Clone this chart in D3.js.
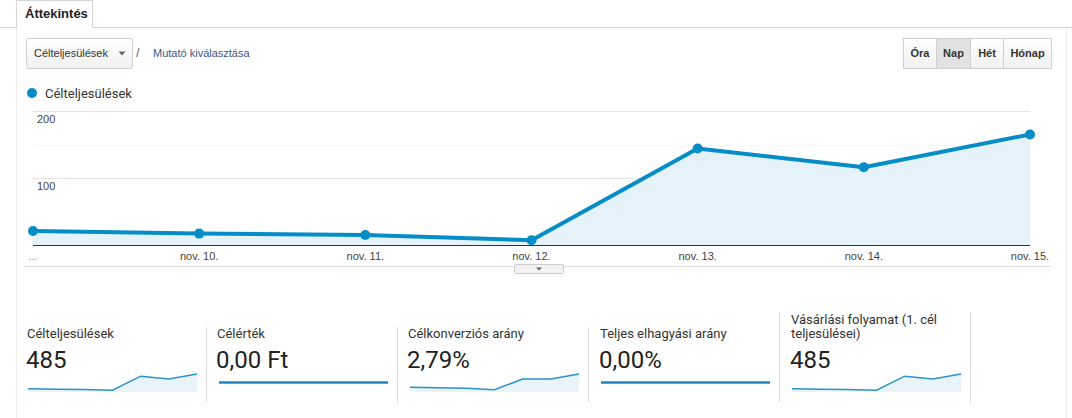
<!DOCTYPE html>
<html>
<head>
<meta charset="utf-8">
<script src="https://cdn.jsdelivr.net/npm/d3@7"></script>
<style>
  html, body { margin: 0; padding: 0; background: #fff; }
  svg { display: block; }
  .ui { font-family: Arial, "Liberation Sans", sans-serif; }
  .rb { font-family: Roboto, "Noto Sans", sans-serif; }
</style>
</head>
<body>
<svg id="chart" width="1072" height="418"></svg>
<script>
// chart data
const days = ['...', 'nov. 10.', 'nov. 11.', 'nov. 12.', 'nov. 13.', 'nov. 14.', 'nov. 15.'];
const goalCompletions = [21, 17, 15, 7, 144, 116, 165];
const yTicks = [100, 200];

// scorecards
const cardTitles = [['Célteljesülések'], ['Célérték'], ['Célkonverziós arány'], ['Teljes elhagyási arány'], ['Vásárlási folyamat (1. cél', 'teljesülései)']];
const cardValues = ['485', '0,00 Ft', '2,79%', '0,00%', '485'];
const goalValueSeries = [0, 0, 0, 0, 0, 0, 0];
const convRateSeries = [0.98, 0.85, 0.7, 0.34, 3.18, 3.18, 4.5];
const abandonSeries = [0, 0, 0, 0, 0, 0, 0];
const funnelSeries = [21, 17, 15, 7, 144, 116, 165];
const cardSeries = [goalCompletions, goalValueSeries, convRateSeries, abandonSeries, funnelSeries];

// controls
const periods = ['Óra', 'Nap', 'Hét', 'Hónap'];
const activePeriod = 'Nap';

const blue = '#058dc7';
const svg = d3.select('#chart');

const defs = svg.append('defs');
const btnGrad = defs.append('linearGradient').attr('id', 'btn').attr('x1', 0).attr('y1', 0).attr('x2', 0).attr('y2', 1);
btnGrad.append('stop').attr('offset', '0%').attr('stop-color', '#ffffff');
btnGrad.append('stop').attr('offset', '100%').attr('stop-color', '#f1f1f1');

// page frame + tab
svg.append('line').attr('x1', 16.5).attr('x2', 16.5).attr('y1', 27).attr('y2', 418).attr('stroke', '#eeeeee');
svg.append('line').attr('x1', 1066.5).attr('x2', 1066.5).attr('y1', 27).attr('y2', 418).attr('stroke', '#eeeeee');
svg.append('path')
  .attr('d', 'M0,27.5H16.5V0.5H92.5V27.5H1072')
  .attr('fill', 'none').attr('stroke', '#d6d6d6');
svg.append('rect').attr('x', 17).attr('y', 1).attr('width', 75).attr('height', 27).attr('fill', '#fff');
svg.append('text').attr('class', 'ui').attr('x', 25).attr('y', 18)
  .attr('font-size', 13).attr('font-weight', 'bold').attr('fill', '#222').text('Áttekintés');

// metric dropdown
svg.append('rect').attr('x', 26.5).attr('y', 38.5).attr('width', 106).attr('height', 30).attr('rx', 2)
  .attr('fill', 'url(#btn)').attr('stroke', '#d0d0d0');
svg.append('text').attr('class', 'ui').attr('x', 34).attr('y', 57)
  .attr('font-size', 11).attr('fill', '#333').text('Célteljesülések');
svg.append('path').attr('d', 'M118.5,51.5h7l-3.5,4z').attr('fill', '#666');
svg.append('text').attr('class', 'ui').attr('x', 136).attr('y', 57)
  .attr('font-size', 13).attr('fill', '#666').text('/');
svg.append('text').attr('class', 'ui').attr('x', 153).attr('y', 57)
  .attr('font-size', 11).attr('fill', '#36598c').text('Mutató kiválasztása');

// period buttons
const edges = [903, 936, 970, 1003, 1051];
const btn = svg.append('g').selectAll('g').data(periods).join('g');
btn.append('rect')
  .attr('x', (d, i) => edges[i] + 0.5).attr('y', 38.5)
  .attr('width', (d, i) => edges[i + 1] - edges[i]).attr('height', 30)
  .attr('fill', d => d === activePeriod ? '#e2e2e2' : 'url(#btn)')
  .attr('stroke', '#cfcfcf');
btn.append('text').attr('class', 'ui')
  .attr('x', (d, i) => (edges[i] + edges[i + 1]) / 2 + 0.5).attr('y', 57)
  .attr('text-anchor', 'middle').attr('font-size', 11).attr('font-weight', 'bold').attr('fill', '#333')
  .text(d => d);

// legend
svg.append('circle').attr('cx', 32).attr('cy', 93).attr('r', 5).attr('fill', blue);
svg.append('text').attr('class', 'rb').attr('x', 45).attr('y', 98)
  .attr('font-size', 13).attr('fill', '#333').text('Célteljesülések');

// main chart
const x = d3.scalePoint().domain(d3.range(days.length)).range([33, 1030]);
const y = d3.scaleLinear().domain([0, 200]).range([245, 111]);

svg.append('line').attr('x1', 33).attr('x2', 1030).attr('y1', Math.round(y(150)) + 0.5).attr('y2', Math.round(y(150)) + 0.5)
  .attr('stroke', '#f6f6f6');
svg.append('g').selectAll('line').data(yTicks).join('line')
  .attr('x1', 33).attr('x2', 1030)
  .attr('y1', d => Math.round(y(d)) + 0.5).attr('y2', d => Math.round(y(d)) + 0.5)
  .attr('stroke', '#e4e4e4');

svg.append('path').datum(goalCompletions)
  .attr('d', d3.area().x((d, i) => x(i)).y0(y(0)).y1(d => y(d)))
  .attr('fill', '#e5f2f9');

svg.append('line').attr('x1', 33).attr('x2', 1030).attr('y1', y(0) + 0.5).attr('y2', y(0) + 0.5)
  .attr('stroke', '#333');

svg.append('path').datum(goalCompletions)
  .attr('d', d3.line().x((d, i) => x(i)).y(d => y(d)))
  .attr('fill', 'none').attr('stroke', blue).attr('stroke-width', 4).attr('stroke-linejoin', 'round');
svg.append('g').selectAll('circle').data(goalCompletions).join('circle')
  .attr('cx', (d, i) => x(i)).attr('cy', d => y(d)).attr('r', 5).attr('fill', blue);

svg.append('g').selectAll('text').data(yTicks).join('text').attr('class', 'ui')
  .attr('x', 37).attr('y', d => y(d) + 12)
  .attr('font-size', 11).attr('fill', '#444').text(d => d);

svg.append('g').selectAll('text').data(days).join('text').attr('class', 'ui')
  .attr('x', (d, i) => x(i)).attr('y', 260)
  .attr('text-anchor', 'middle').attr('font-size', 11)
  .attr('fill', (d, i) => i === 0 ? '#999' : '#444').text(d => d);

svg.append('line').attr('x1', 25).attr('x2', 1050).attr('y1', 266.5).attr('y2', 266.5).attr('stroke', '#dddddd');
svg.append('rect').attr('x', 514.5).attr('y', 264.5).attr('width', 49).attr('height', 9).attr('rx', 1)
  .attr('fill', '#f2f2f2').attr('stroke', '#cccccc');
svg.append('path').attr('d', 'M536,267.5h6l-3,3z').attr('fill', '#666');

// scorecards
const cardX = [28, 219, 410, 601, 792];
const textX = [27, 217, 408, 600, 791];
const sparkW = 169;

[206, 397, 588].forEach(px => svg.append('line').attr('x1', px + 0.5).attr('x2', px + 0.5)
  .attr('y1', 327).attr('y2', 402).attr('stroke', '#dcdcdc'));
[779, 970].forEach(px => svg.append('line').attr('x1', px + 0.5).attr('x2', px + 0.5)
  .attr('y1', 312).attr('y2', 402).attr('stroke', '#dcdcdc'));

cardTitles.forEach((lines, k) => {
  const t = svg.append('text').attr('class', 'rb').attr('font-size', 13).attr('fill', '#333');
  lines.forEach((ln, j) => {
    t.append('tspan').attr('x', textX[k]).attr('y', 338 - (lines.length - 1 - j) * 14).text(ln);
  });
  svg.append('text').attr('class', 'rb').attr('x', textX[k] - 1).attr('y', 368)
    .attr('font-size', 24).attr('fill', '#222').text(cardValues[k]);

  const vals = cardSeries[k];
  const sx = d3.scalePoint().domain(d3.range(vals.length)).range([cardX[k], cardX[k] + sparkW]);
  const mx = d3.max(vals);
  if (mx > 0) {
    const sy = d3.scaleLinear().domain([0, mx]).range([391, 374]);
    svg.append('path').datum(vals)
      .attr('d', d3.area().x((d, i) => sx(i)).y0(392).y1(d => sy(d)))
      .attr('fill', '#e8f4fa');
    svg.append('path').datum(vals)
      .attr('d', d3.line().x((d, i) => sx(i)).y(d => sy(d)))
      .attr('fill', 'none').attr('stroke', '#2a93c9').attr('stroke-width', 1.5);
  } else {
    const sy = d3.scaleLinear().domain([-1, 1]).range([391, 374]);
    svg.append('path').datum(vals)
      .attr('d', d3.line().x((d, i) => sx(i)).y(d => sy(d)))
      .attr('fill', 'none').attr('stroke', '#1f86bd').attr('stroke-width', 2.5);
  }
});
</script>
</body>
</html>
